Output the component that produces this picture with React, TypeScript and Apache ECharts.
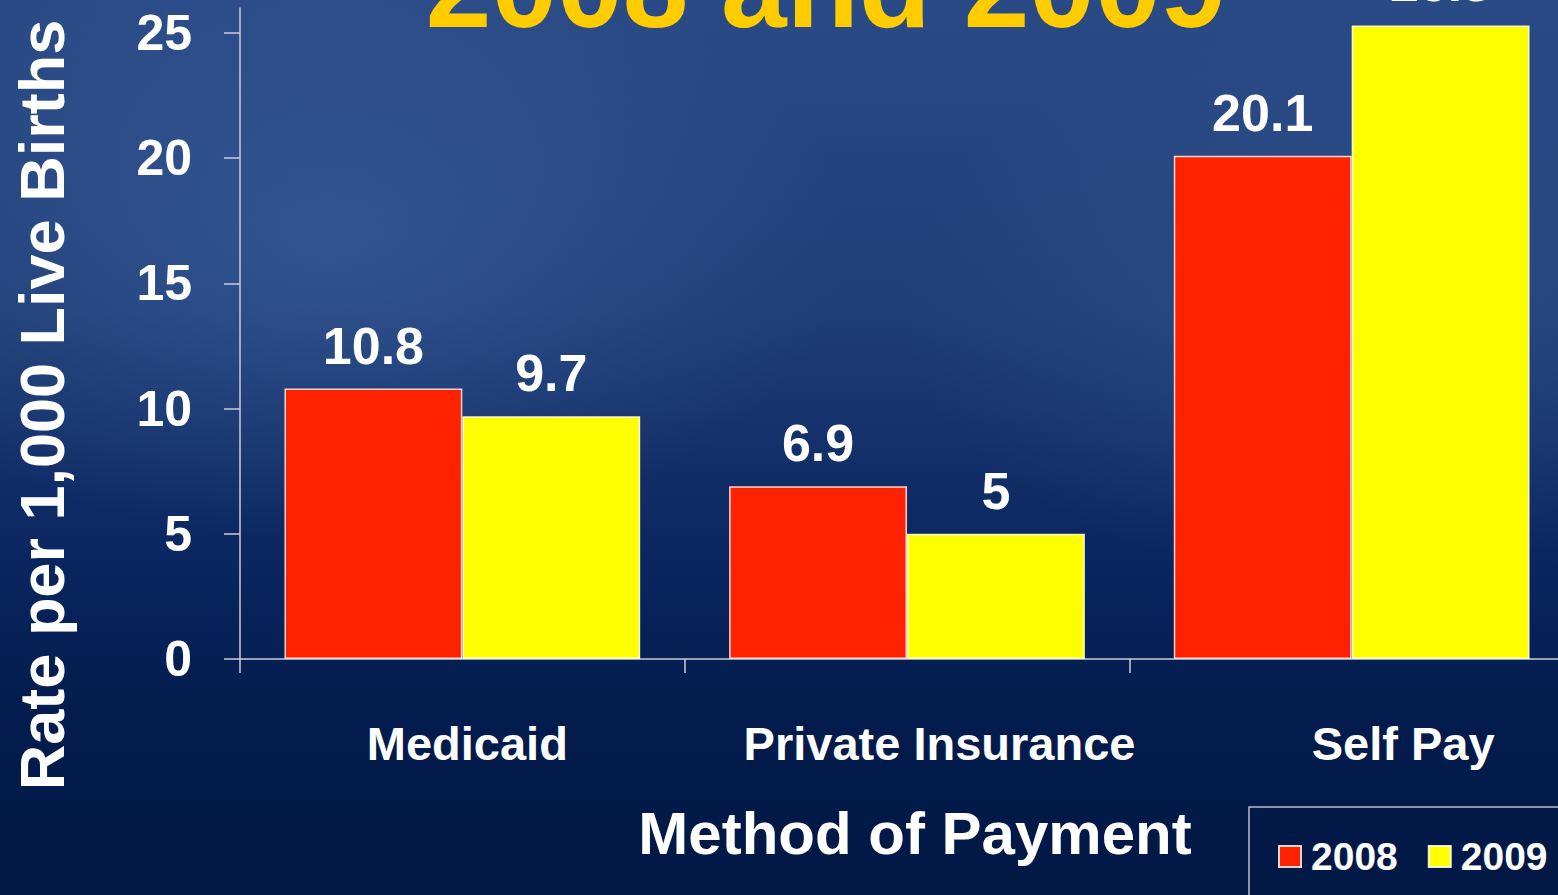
import React, { useEffect, useRef } from "react";
import * as echarts from "echarts";

const categories = ["Medicaid", "Private Insurance", "Self Pay"];
const series2008 = [10.8, 6.9, 20.1];
const series2009 = [9.7, 5, 25.3];
const yTickValues = [0, 5, 10, 15, 20, 25];
const seriesNames = ["2008", "2009"];
const titleText = "2008 and 2009";
const yAxisTitle = "Rate per 1,000 Live Births";
const xAxisTitle = "Method of Payment";

const FONT = "'Liberation Sans', Arial, Helvetica, sans-serif";
const labelShift = [10, 65, 103];

export default function App() {
  const ref = useRef<HTMLDivElement>(null);
  useEffect(() => {
    if (!ref.current) return;
    const chart = echarts.init(ref.current, null, { renderer: "svg" });
    const W = 1574;
    const H = 895;
    const option = {
      animation: false,
      backgroundColor: "#0a2458",
      textStyle: { fontFamily: FONT },
      grid: { left: 240, top: 8, right: 0, bottom: 236, containLabel: false },
      legend: {
        data: seriesNames,
        left: 1278,
        top: 837,
        padding: 0,
        itemWidth: 22,
        itemHeight: 21,
        itemGap: 30,
        icon: "rect",
        textStyle: {
          color: "#ffffff",
          fontSize: 39,
          fontWeight: "bold",
          fontFamily: FONT,
          padding: [0, 0, 0, 5],
        },
      },
      xAxis: {
        type: "category",
        data: categories.map((c, i) => ({
          value: c,
          textStyle: { padding: [0, 0, 0, labelShift[i]] },
        })),
        axisLine: { lineStyle: { color: "#c8ccd8", width: 1.5 } },
        axisTick: { show: true, length: 14, lineStyle: { color: "#c8ccd8", width: 1.5 } },
        axisLabel: {
          interval: 0,
          hideOverlap: false,
          color: "#ffffff",
          fontSize: 47,
          fontWeight: "bold",
          fontFamily: FONT,
          margin: 61,
          textShadowColor: "#000000",
          textShadowOffsetX: 3,
          textShadowOffsetY: 3,
          textShadowBlur: 0,
        },
        splitLine: { show: false },
      },
      yAxis: {
        type: "value",
        min: 0,
        max: 26,
        axisLine: { show: true, lineStyle: { color: "#c8ccd8", width: 1.5 } },
        axisTick: {
          show: true,
          length: 16,
          customValues: yTickValues,
          lineStyle: { color: "#c8ccd8", width: 1.5 },
        },
        axisLabel: {
          customValues: yTickValues,
          color: "#ffffff",
          fontSize: 50,
          fontWeight: "bold",
          fontFamily: FONT,
          margin: 48,
        },
        splitLine: { show: false },
      },
      series: [
        {
          name: seriesNames[0],
          type: "bar",
          data: series2008,
          barWidth: "40%",
          barGap: "0%",
          clip: false,
          itemStyle: { color: "#ff2200", borderColor: "rgba(255,235,225,0.9)", borderWidth: 1.5 },
          label: {
            show: true,
            position: "top",
            distance: 17,
            color: "#ffffff",
            fontSize: 52,
            fontWeight: "bold",
            fontFamily: FONT,
          },
        },
        {
          name: seriesNames[1],
          type: "bar",
          data: series2009,
          barWidth: "40%",
          barGap: "0%",
          clip: false,
          itemStyle: { color: "#ffff00", borderColor: "rgba(255,255,230,0.9)", borderWidth: 1.5 },
          label: {
            show: true,
            position: "top",
            distance: 17,
            color: "#ffffff",
            fontSize: 52,
            fontWeight: "bold",
            fontFamily: FONT,
          },
        },
      ],
      graphic: [
        {
          type: "rect",
          z: -100,
          silent: true,
          shape: { x: 0, y: 0, width: W, height: H },
          style: {
            fill: new echarts.graphic.LinearGradient(0, 0, 0, 1, [
              { offset: 0, color: "#2a4a86" },
              { offset: 0.35, color: "#1f3d77" },
              { offset: 0.62, color: "#0b2660" },
              { offset: 0.8, color: "#031c4d" },
              { offset: 1, color: "#021845" },
            ]),
          },
        },
        {
          type: "ellipse",
          z: -99,
          silent: true,
          shape: { cx: 330, cy: 240, rx: 520, ry: 300 },
          style: {
            fill: new echarts.graphic.RadialGradient(0.5, 0.5, 0.5, [
              { offset: 0, color: "rgba(70,110,170,0.45)" },
              { offset: 1, color: "rgba(70,110,170,0)" },
            ]),
          },
        },
        {
          type: "ellipse",
          z: -99,
          silent: true,
          shape: { cx: 1350, cy: 300, rx: 450, ry: 280 },
          style: {
            fill: new echarts.graphic.RadialGradient(0.5, 0.5, 0.5, [
              { offset: 0, color: "rgba(70,105,160,0.35)" },
              { offset: 1, color: "rgba(70,105,160,0)" },
            ]),
          },
        },
        {
          type: "text",
          z: 100,
          x: 826,
          y: -14,
          style: {
            text: titleText,
            fill: "#ffcc00",
            font: `bold 118px ${FONT}`,
            align: "center",
            verticalAlign: "middle",
            textShadowColor: "#000000",
            textShadowOffsetX: 4,
            textShadowOffsetY: 4,
            textShadowBlur: 0,
          },
        },
        {
          type: "text",
          z: 100,
          x: 42,
          y: 405,
          rotation: Math.PI / 2,
          style: {
            text: yAxisTitle,
            fill: "#ffffff",
            font: `bold 63px ${FONT}`,
            align: "center",
            verticalAlign: "middle",
            textShadowColor: "#000000",
            textShadowOffsetX: -3,
            textShadowOffsetY: 3,
            textShadowBlur: 0,
          },
        },
        {
          type: "text",
          z: 100,
          x: 915,
          y: 833,
          style: {
            text: xAxisTitle,
            fill: "#ffffff",
            font: `bold 60px ${FONT}`,
            align: "center",
            verticalAlign: "middle",
          },
        },
        {
          type: "rect",
          z: 50,
          silent: true,
          shape: { x: 1249, y: 807, width: 400, height: 200 },
          style: { fill: "rgba(0,0,0,0)", stroke: "#b8bcc8", lineWidth: 1.5 },
        },
      ],
    };
    chart.setOption(option as any);
    return () => chart.dispose();
  }, []);
  return (
    <div
      style={{
        position: "absolute",
        left: 0,
        top: 0,
        width: 1558,
        height: 895,
        overflow: "hidden",
      }}
    >
      <div ref={ref} style={{ width: 1574, height: 895 }} />
    </div>
  );
}
